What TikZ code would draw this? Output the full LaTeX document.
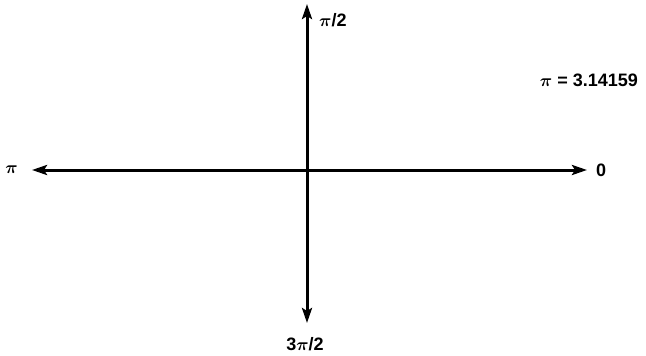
\documentclass[tikz,border=0pt]{standalone}
\usepackage{amsmath,amssymb,bm}
\usepackage{fontspec}
\setmainfont{Liberation Sans}
\usetikzlibrary{arrows.meta, positioning}

\begin{document}
\begin{tikzpicture}[
    x=1pt, y=-1pt,
    axis/.style={line width=3pt, {Stealth[length=15pt, width=10pt, inset=3pt]}-{Stealth[length=15pt, width=10pt, inset=3pt]}},
    lbl/.style={font=\fontsize{18}{20}\selectfont\bfseries, inner sep=0pt}
]
\useasboundingbox (0,0) rectangle (646,356);
% axis end points
\coordinate (west) at (32,170);
\coordinate (east) at (587,170);
\coordinate (north) at (307,4);
\coordinate (south) at (307,323);
\draw[axis] (west) -- (east);
\draw[axis] (north) -- (south);
% labels
\node[lbl, left=14pt of west] (pi) {$\bm{\pi}$};
\node[lbl, right=9pt of east] (zero) {0};
\node[lbl, anchor=west] (half) at (319,20) {$\bm{\pi}$/2};
\node[lbl] (three) at (305,344) {3$\bm{\pi}$/2};
\node[lbl] (value) at (589,80) {$\bm{\pi}$ = 3.14159};
\end{tikzpicture}
\end{document}
